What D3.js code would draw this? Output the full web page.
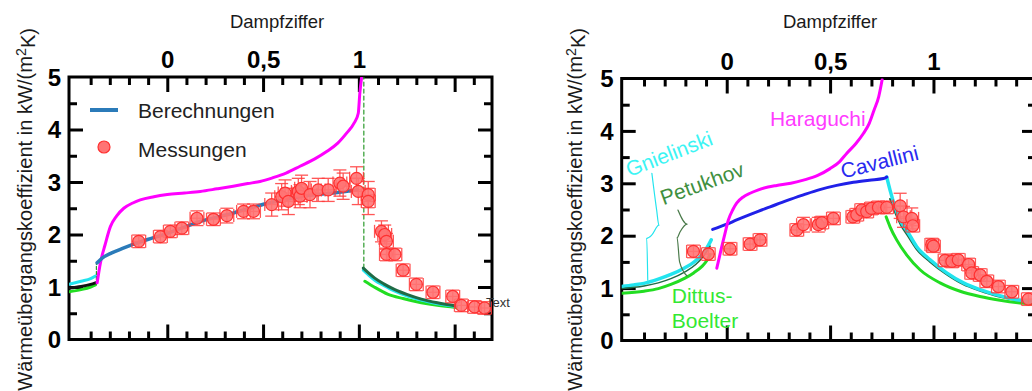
<!DOCTYPE html>
<html>
<head>
<meta charset="utf-8">
<script src="https://cdn.jsdelivr.net/npm/d3@7/dist/d3.min.js"></script>
<style>
  html, body { margin: 0; padding: 0; background: #fff; }
  svg { display: block; }
  text { font-family: "Liberation Sans", Arial, Helvetica, sans-serif; }
</style>
</head>
<body>
<svg id="chart" width="1032" height="391"></svg>
<script>
// ---------- shared axis labels ----------
const xMajorTicks = [0, 0.5, 1, 1.5];
const xMajorLabels = ["0", "0,5", "1", ""];
const yMajorTicks = [0, 1, 2, 3, 4, 5];
const yMinorTicks = [0.5, 1.5, 2.5, 3.5, 4.5];
const xTitle = "Dampfziffer";
const yTitleMain = "Wärmeübergangskoeffizient in kW/(m";
const yTitleSup = "2";
const yTitleEnd = "K)";

// ---------- left panel: calculation vs. measurement ----------
const leftCalc = [[-0.366,1.46],[-0.34,1.55],[-0.29,1.65],[-0.23,1.74],[-0.18,1.81],[-0.08,1.93],
  [0,2.02],[0.09,2.14],[0.172,2.25],[0.26,2.33],[0.345,2.41],[0.43,2.50],[0.519,2.59],
  [0.61,2.66],[0.693,2.72],[0.78,2.76],[0.866,2.79],[0.93,2.82],[0.99,2.85]];
const leftMagenta = [[-0.366,1.08],[-0.349,1.46],[-0.325,1.8],[-0.297,2.15],[-0.265,2.35],
  [-0.227,2.50],[-0.18,2.60],[-0.141,2.66],[-0.07,2.72],[0,2.76],[0.09,2.79],[0.172,2.82],
  [0.26,2.87],[0.344,2.92],[0.42,2.97],[0.484,3.01],[0.55,3.08],[0.62,3.17],[0.693,3.30],
  [0.77,3.44],[0.832,3.58],[0.89,3.74],[0.936,3.93],[0.975,4.12],[0.997,4.31],[1.005,4.69],[1.014,4.98]];
const leftCyanLiquid = [[-0.513,1.05],[-0.45,1.11],[-0.40,1.16],[-0.375,1.21]];
const leftDarkLiquid = [[-0.513,0.98],[-0.45,1.01],[-0.40,1.05],[-0.375,1.08]];
const leftGreenLiquid = [[-0.513,0.91],[-0.45,0.95],[-0.40,1.0],[-0.375,1.04]];
const leftDarkVapor = [[1.023,1.36],[1.05,1.27],[1.083,1.17],[1.13,1.06],[1.188,0.95],
  [1.25,0.86],[1.326,0.77],[1.41,0.70],[1.51,0.64]];
const leftCyanVapor = [[1.023,1.32],[1.05,1.23],[1.083,1.13],[1.13,1.03],[1.188,0.92],
  [1.25,0.83],[1.326,0.75],[1.41,0.68],[1.51,0.63]];
const leftGreenVapor = [[1.031,1.11],[1.08,1.0],[1.153,0.86],[1.23,0.78],[1.326,0.70],[1.41,0.65],[1.51,0.61]];
const leftDashA = [[-0.37,1.05],[-0.37,1.46]];
const leftDashB = [[1.026,1.36],[1.026,5]];

const leftMeasX = [-0.149,-0.036,0.016,0.076,0.155,0.241,0.311,0.398,0.45,0.545,0.597,0.615,0.632,
  0.684,0.693,0.701,0.745,0.788,0.84,0.901,0.918,0.988,0.997,1.049,1.049,1.118,1.135,1.144,1.144,
  1.188,1.231,1.30,1.387,1.49,1.535,1.604,1.656];
const leftMeasY = [1.87,1.96,2.06,2.12,2.31,2.29,2.36,2.44,2.44,2.57,2.72,2.79,2.63,2.82,2.73,2.88,
  2.76,2.85,2.85,2.98,2.92,3.07,2.82,2.76,2.63,2.06,2.0,1.87,1.62,1.62,1.32,1.05,0.90,0.82,0.65,0.62,0.60];
const leftMeasYErr = [0.12,0.12,0.12,0.12,0.14,0.12,0.14,0.14,0.14,0.22,0.25,0.25,0.25,0.25,0.22,0.25,
  0.25,0.22,0.22,0.25,0.25,0.22,0.25,0.25,0.25,0.2,0.18,0.15,0.12,0.12,0.12,0.12,0.12,0.12,0.12,0.12,0.12];

// ---------- right panel: correlations vs. measurement ----------
const rightGnielinskiLiquid = [[-0.508,1.03],[-0.45,1.06],[-0.40,1.09],[-0.331,1.17],[-0.27,1.26],
  [-0.202,1.39],[-0.16,1.49],[-0.121,1.63],[-0.097,1.76],[-0.075,1.92]];
const rightPetukhovLiquid = [[-0.508,0.99],[-0.40,1.04],[-0.331,1.10],[-0.27,1.18],[-0.202,1.31],
  [-0.15,1.45],[-0.11,1.62],[-0.08,1.80]];
const rightDittusLiquid = [[-0.508,0.90],[-0.40,0.94],[-0.331,0.99],[-0.27,1.07],[-0.202,1.19],
  [-0.16,1.29],[-0.121,1.41],[-0.095,1.53],[-0.08,1.64]];
const rightCavallini = [[-0.068,2.12],[0.0,2.22],[0.048,2.30],[0.13,2.43],[0.21,2.55],[0.29,2.67],
  [0.371,2.78],[0.45,2.88],[0.532,2.96],[0.613,3.02],[0.69,3.06],[0.758,3.09],[0.774,3.12]];
const rightHaraguchi = [[-0.048,1.38],[-0.035,1.6],[-0.024,1.79],[-0.008,2.05],[0.008,2.30],[0.03,2.5],
  [0.048,2.62],[0.08,2.74],[0.113,2.81],[0.15,2.87],[0.20,2.93],[0.242,2.96],[0.31,3.00],[0.371,3.06],
  [0.44,3.15],[0.5,3.28],[0.545,3.41],[0.58,3.57],[0.625,3.76],[0.661,3.95],[0.69,4.15],[0.712,4.39],
  [0.735,4.65],[0.752,4.98]];
const rightGnielinskiVapor = [[0.774,3.12],[0.79,2.87],[0.814,2.55],[0.847,2.24],[0.871,2.10],[0.919,1.79],
  [0.984,1.54],[1.064,1.29],[1.145,1.10],[1.226,0.97],[1.306,0.87],[1.387,0.79],[1.451,0.75],[1.496,0.73]];
const rightPetukhovVapor = [[0.79,2.70],[0.814,2.45],[0.847,2.17],[0.871,2.03],[0.919,1.74],
  [0.984,1.50],[1.064,1.26],[1.145,1.07],[1.226,0.95],[1.306,0.85],[1.387,0.78],[1.451,0.74],[1.496,0.72]];
const rightDittusVapor = [[0.771,2.36],[0.79,2.17],[0.822,1.92],[0.871,1.63],[0.935,1.35],[1.032,1.10],
  [1.129,0.94],[1.225,0.84],[1.322,0.77],[1.435,0.71],[1.496,0.69]];
const gnielinskiPointer = [[-0.362,3.19],[-0.339,2.49],[-0.328,2.20],[-0.363,2.01],[-0.387,1.95],[-0.382,1.15]];
const petukhovPointer = [[-0.236,2.49],[-0.192,2.22],[-0.226,2.07],[-0.240,1.96],[-0.228,1.50],[-0.192,1.23]];

const rightMeasX = [-0.161,-0.089,0.016,0.113,0.161,0.339,0.371,0.443,0.46,0.516,0.61,0.629,0.653,
  0.677,0.70,0.734,0.774,0.839,0.855,0.895,0.90,0.992,1.0,1.056,1.089,1.12,1.17,1.185,1.226,1.258,
  1.314,1.379,1.459];
const rightMeasY = [1.70,1.65,1.75,1.84,1.92,2.11,2.21,2.21,2.25,2.33,2.36,2.40,2.49,2.46,2.52,2.54,
  2.54,2.57,2.36,2.33,2.19,1.83,1.80,1.53,1.51,1.54,1.45,1.29,1.25,1.13,1.03,0.93,0.79];
const rightMeasYErr = [0.12,0.12,0.12,0.12,0.12,0.12,0.14,0.14,0.12,0.12,0.12,0.12,0.12,0.12,0.12,0.12,
  0.12,0.24,0.2,0.2,0.12,0.12,0.12,0.12,0.12,0.12,0.12,0.12,0.12,0.12,0.12,0.12,0.12];

const correlationLabels = ["Haraguchi", "Gnielinski", "Petukhov", "Cavallini", "Dittus-", "Boelter"];
const legendLabels = ["Berechnungen", "Messungen"];

// ---------- colours ----------
const C = {
  calc: "#2b7bb9", magenta: "#ff00ff", cyan: "#22e4ee", green: "#22dd22",
  dark: "#1f6b45", blue: "#2020e8", pointer: "#4a7a4a",
  markFill: "#ff7474", markStroke: "#ff3030", err: "#ff3a3a"
};

const svg = d3.select("#chart");

function makePanel(opt) {
  const g = svg.append("g");
  const x = d3.scaleLinear().domain(opt.xDomain).range([opt.left, opt.right]);
  const y = d3.scaleLinear().domain([0, 5]).range([opt.bottom, opt.top]);
  const line = d3.line().x(d => x(d[0])).y(d => y(d[1])).curve(d3.curveMonotoneX);
  const lineLinear = d3.line().x(d => x(d[0])).y(d => y(d[1]));

  const clipId = "clip" + opt.id;
  svg.append("clipPath").attr("id", clipId).append("rect")
    .attr("x", opt.left).attr("y", opt.top).attr("width", opt.right - opt.left).attr("height", opt.bottom - opt.top);

  const minorX = d3.range(-6, 18).map(i => i / 10)
    .filter(v => v > opt.xDomain[0] + 0.05 && v < opt.xDomain[1] - 0.02 && !xMajorTicks.some(m => Math.abs(m - v) < 1e-6));
  const majorX = xMajorTicks.filter(v => v < opt.xDomain[1]);

  function styleAxis(sel) {
    sel.select(".domain").remove();
    sel.selectAll(".tick line").attr("stroke", "#000").attr("stroke-width", 3);
  }
  // top axis with labels
  g.append("g").attr("transform", `translate(0,${opt.top})`)
    .call(d3.axisTop(x).tickValues(majorX).tickSize(-15).tickPadding(9)
      .tickFormat(d => xMajorLabels[xMajorTicks.indexOf(d)]))
    .call(styleAxis)
    .call(s => s.selectAll("text").attr("font-size", 24).attr("font-weight", "bold").attr("fill", "#000")
      .attr("font-family", "'Liberation Sans', Arial, sans-serif"));
  g.append("g").attr("transform", `translate(0,${opt.top})`)
    .call(d3.axisTop(x).tickValues(minorX).tickSize(-8).tickFormat("")).call(styleAxis);
  // bottom axis, ticks only
  g.append("g").attr("transform", `translate(0,${opt.bottom})`)
    .call(d3.axisBottom(x).tickValues(majorX).tickSize(-15).tickFormat("")).call(styleAxis);
  g.append("g").attr("transform", `translate(0,${opt.bottom})`)
    .call(d3.axisBottom(x).tickValues(minorX).tickSize(-8).tickFormat("")).call(styleAxis);
  // left axis with labels
  g.append("g").attr("transform", `translate(${opt.left},0)`)
    .call(d3.axisLeft(y).tickValues(yMajorTicks.filter(v => v > 0 && v < 5)).tickSize(-14).tickFormat(""))
    .call(styleAxis);
  g.append("g").attr("transform", `translate(${opt.left},0)`)
    .call(d3.axisLeft(y).tickValues(yMinorTicks).tickSize(-8).tickFormat("")).call(styleAxis);
  g.selectAll(".ylab").data(yMajorTicks).join("text")
    .attr("x", opt.left - 8).attr("y", d => y(d)).attr("dy", "0.36em")
    .attr("text-anchor", "end").attr("font-size", 24).attr("font-weight", "bold").attr("fill", "#000")
    .text(d => String(d));
  // right axis, ticks only
  g.append("g").attr("transform", `translate(${opt.right},0)`)
    .call(d3.axisRight(y).tickValues(yMajorTicks.filter(v => v > 0 && v < 5)).tickSize(-14).tickFormat(""))
    .call(styleAxis);
  g.append("g").attr("transform", `translate(${opt.right},0)`)
    .call(d3.axisRight(y).tickValues(yMinorTicks).tickSize(-8).tickFormat("")).call(styleAxis);
  // frame
  g.append("rect").attr("x", opt.left).attr("y", opt.top)
    .attr("width", opt.right - opt.left).attr("height", opt.bottom - opt.top)
    .attr("fill", "none").attr("stroke", "#000").attr("stroke-width", 3);

  // axis titles
  g.append("text").attr("x", (x(0) + x(1)) / 2 + opt.titleShift).attr("y", 28)
    .attr("text-anchor", "middle").attr("font-size", 18.5).attr("fill", "#1a1a1a").text(xTitle);
  const yt = g.append("text")
    .attr("transform", `translate(${opt.yTitleX},28) rotate(-90)`)
    .attr("text-anchor", "end").attr("font-size", 20.1).attr("fill", "#1a1a1a");
  yt.append("tspan").text(yTitleMain);
  yt.append("tspan").attr("dy", "-0.45em").attr("font-size", 14.2).text(yTitleSup);
  yt.append("tspan").attr("dy", "0.45em").text(yTitleEnd);

  const plot = g.append("g").attr("clip-path", `url(#${clipId})`);
  return { g, plot, x, y, line, lineLinear };
}

function drawCurve(P, data, color, width, dash, linear) {
  P.plot.append("path").datum(data)
    .attr("d", linear ? P.lineLinear : P.line)
    .attr("fill", "none").attr("stroke", color).attr("stroke-width", width)
    .attr("stroke-linecap", "round").attr("stroke-linejoin", "round")
    .attr("stroke-dasharray", dash || null);
}

function drawMeasurements(P, xs, ys, yerr, xerr) {
  const pts = xs.map((v, i) => ({ x: v, y: ys[i], ey: yerr[i], ex: xerr }));
  const cap = 6.5;
  const grp = P.plot.append("g");
  pts.forEach(p => {
    const cx = P.x(p.x), cy = P.y(p.y);
    const x0 = P.x(p.x - p.ex), x1 = P.x(p.x + p.ex);
    const y0 = P.y(p.y - p.ey), y1 = P.y(p.y + p.ey);
    const e = grp.append("g").attr("stroke", C.err).attr("stroke-width", 1.3).attr("opacity", 0.85);
    e.append("line").attr("x1", x0).attr("x2", x1).attr("y1", cy).attr("y2", cy);
    e.append("line").attr("x1", cx).attr("x2", cx).attr("y1", y0).attr("y2", y1);
    e.append("line").attr("x1", x0).attr("x2", x0).attr("y1", cy - cap).attr("y2", cy + cap);
    e.append("line").attr("x1", x1).attr("x2", x1).attr("y1", cy - cap).attr("y2", cy + cap);
    e.append("line").attr("x1", cx - cap).attr("x2", cx + cap).attr("y1", y0).attr("y2", y0);
    e.append("line").attr("x1", cx - cap).attr("x2", cx + cap).attr("y1", y1).attr("y2", y1);
  });
  grp.selectAll("circle").data(pts).join("circle")
    .attr("cx", d => P.x(d.x)).attr("cy", d => P.y(d.y)).attr("r", 6)
    .attr("fill", C.markFill).attr("stroke", C.markStroke).attr("stroke-width", 1.2).attr("fill-opacity", 0.9);
}

// ================= left panel =================
const L = makePanel({ id: "L", xDomain: [-0.513, 1.695], left: 69, right: 492, top: 77, bottom: 339.5,
  yTitleX: 32, titleShift: 14 });
drawCurve(L, leftGreenLiquid, C.green, 3);
drawCurve(L, leftCyanLiquid, C.cyan, 3);
drawCurve(L, leftDarkLiquid, "#111", 3);
drawCurve(L, leftDashA, "#2a9a2a", 1.2, "3,2", true);
drawCurve(L, leftDashB, "#2a9a2a", 1.2, "4,3", true);
drawCurve(L, leftGreenVapor, C.green, 3);
drawCurve(L, leftCyanVapor, C.cyan, 3);
drawCurve(L, leftDarkVapor, C.dark, 3);
drawCurve(L, leftMagenta, C.magenta, 3);
drawCurve(L, leftCalc, C.calc, 3.5);
drawMeasurements(L, leftMeasX, leftMeasY, leftMeasYErr, 0.036);

// legend
L.g.append("line").attr("x1", 90).attr("x2", 118).attr("y1", 110).attr("y2", 110)
  .attr("stroke", C.calc).attr("stroke-width", 4);
L.g.append("text").attr("x", 138).attr("y", 118).attr("font-size", 21).attr("fill", "#222").text(legendLabels[0]);
L.g.append("circle").attr("cx", 104).attr("cy", 147).attr("r", 6)
  .attr("fill", C.markFill).attr("stroke", C.markStroke).attr("stroke-width", 1.2);
L.g.append("text").attr("x", 138).attr("y", 157).attr("font-size", 21).attr("fill", "#222").text(legendLabels[1]);
L.g.append("text").attr("x", 486).attr("y", 307).attr("font-size", 13).attr("fill", "#333").text("Text");

// ================= right panel =================
const R = makePanel({ id: "R", xDomain: [-0.508, 1.496], left: 621.7, right: 1036, top: 78.5, bottom: 340.5,
  yTitleX: 582, titleShift: 0 });
drawCurve(R, rightDittusLiquid, C.green, 3);
drawCurve(R, rightGnielinskiLiquid, C.cyan, 3.5);
drawCurve(R, rightPetukhovLiquid, C.dark, 1.5);
drawCurve(R, rightDittusVapor, C.green, 3);
drawCurve(R, rightPetukhovVapor, C.dark, 2);
drawCurve(R, rightGnielinskiVapor, C.cyan, 3.5);
drawCurve(R, rightCavallini, C.blue, 3);
drawCurve(R, rightHaraguchi, C.magenta, 3);
drawCurve(R, gnielinskiPointer, C.cyan, 1.2, null, false);
drawCurve(R, petukhovPointer, C.pointer, 1.2, null, false);
drawMeasurements(R, rightMeasX, rightMeasY, rightMeasYErr, 0.033);

function corrLabel(P, text, xv, yv, angle, color) {
  P.g.append("text").attr("transform", `translate(${P.x(xv)},${P.y(yv)}) rotate(${angle})`)
    .attr("font-size", 21).attr("fill", color).text(text);
}
corrLabel(R, correlationLabels[0], 0.209, 4.09, 0, "#ff3cff");
corrLabel(R, correlationLabels[1], -0.472, 3.12, -21, "#3cf4f4");
corrLabel(R, correlationLabels[2], -0.306, 2.58, -20, "#3f8f3f");
corrLabel(R, correlationLabels[3], 0.561, 3.09, -14, "#2a2af0");
corrLabel(R, correlationLabels[4], -0.266, 0.71, 0, "#33e833");
corrLabel(R, correlationLabels[5], -0.266, 0.24, 0, "#33e833");
</script>
</body>
</html>
